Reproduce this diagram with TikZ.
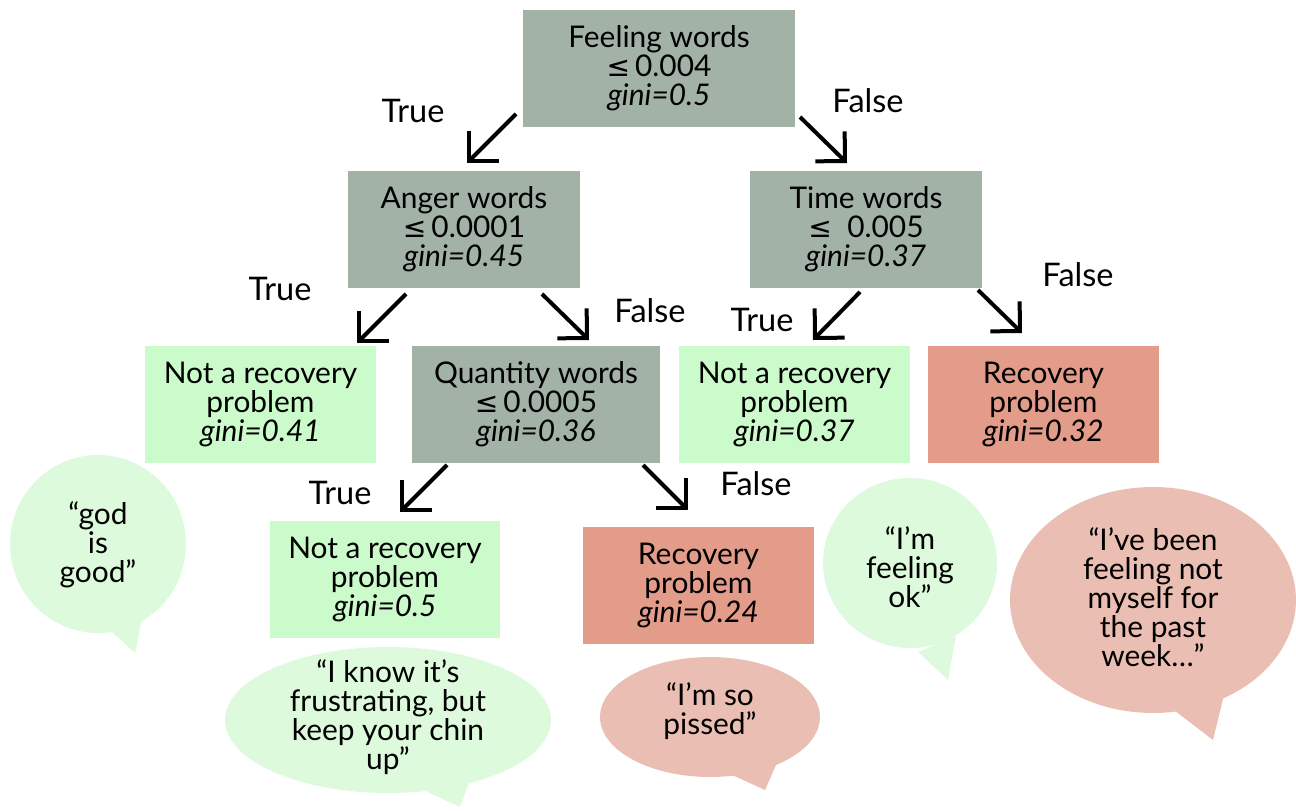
\documentclass[tikz,border=0pt]{standalone}
\usepackage{fontspec}
\setmainfont{Lato}
\newfontfamily\symf{DejaVu Sans}
\usetikzlibrary{arrows.meta}
\definecolor{boxgray}{HTML}{A3B2A6}
\definecolor{leafgreen}{HTML}{CBFBCB}
\definecolor{leafred}{HTML}{E39B8A}
\definecolor{bubgreen}{HTML}{DDFADD}
\definecolor{bubred}{HTML}{EBBEB3}
\newcommand{\lesym}{{\symf\fontsize{16}{16}\selectfont ≤}}
\tikzset{
  txt/.style={font=\fontsize{17}{16.5}\selectfont, align=center, text=black},
  splitbox/.style={txt, fill=boxgray, inner sep=0pt, minimum width=4.64cm, minimum height=2.34cm},
  leafno/.style={txt, fill=leafgreen, inner sep=0pt, minimum width=4.62cm, minimum height=2.34cm},
  leafyes/.style={txt, fill=leafred, inner sep=0pt, minimum width=4.62cm, minimum height=2.34cm},
  lbl/.style={font=\fontsize{18.5}{18.5}\selectfont, text=black, inner sep=0pt},
  arr/.style={line width=0.08cm, -{Straight Barb[length=0.42cm, width=0.84cm, line width=0.08cm]}},
  quote/.style={txt, inner sep=0pt},
}
\begin{document}
\begin{tikzpicture}[x=0.02cm, y=-0.02cm]
\useasboundingbox (0,0) rectangle (1296,811);

% speech bubbles (backgrounds)
\fill[bubgreen] (98,544) ellipse [x radius=1.76cm, y radius=1.78cm];
\fill[bubgreen] (110,630) -- (135,653) -- (142,618) -- cycle;
\fill[bubgreen] (388,720) ellipse [x radius=3.26cm, y radius=1.46cm];
\fill[bubgreen] (410,784) -- (460,807) -- (470,780) -- cycle;
\fill[bubred] (710,717) ellipse [x radius=2.2cm, y radius=1.2cm];
\fill[bubred] (730,774) -- (765,790) -- (776,765) -- cycle;
\fill[bubgreen] (910,563) ellipse [x radius=1.74cm, y radius=1.7cm];
\fill[bubgreen] (918,652) -- (948,680) -- (956,636) -- cycle;
\fill[bubred] (1153,600) ellipse [x radius=2.86cm, y radius=2.26cm];
\fill[bubred] (1170,707) -- (1213,740) -- (1224,695) -- cycle;

% tree nodes
\node[splitbox, minimum width=5.44cm] (root) at (659,68.5) {Feeling words\\\lesym\,0.004\\\textit{gini=0.5}};
\node[splitbox] (anger) at (464,229.5) {Anger words\\\lesym\,0.0001\\\textit{gini=0.45}};
\node[splitbox] (time) at (866,229.5) {Time words\\\lesym\ \ 0.005\\\textit{gini=0.37}};
\node[leafno] (l1) at (260.5,404.5) {Not a recovery\\problem\\\textit{gini=0.41}};
\node[splitbox, minimum width=4.96cm] (qty) at (536,404.5) {Quantity words\\\lesym\,0.0005\\\textit{gini=0.36}};
\node[leafno] (l2) at (794.5,404.5) {Not a recovery\\problem\\\textit{gini=0.37}};
\node[leafyes] (l3) at (1043.5,404.5) {Recovery\\problem\\\textit{gini=0.32}};
\node[leafno, minimum width=4.6cm] (l4) at (385,579.5) {Not a recovery\\problem\\\textit{gini=0.5}};
\node[leafyes] (l5) at (698.5,585.5) {Recovery\\problem\\\textit{gini=0.24}};

% quotes
\node[quote] (q1) at (98,545) {“god\\is\\good”};
\node[quote] (q2) at (388,717) {“I know it’s\\frustrating, but\\keep your chin\\up”};
\node[quote] (q3) at (710,711) {“I’m so\\pissed”};
\node[quote] (q4) at (910,567) {“I’m\\feeling\\ok”};
\node[quote] (q5) at (1153,597) {“I’ve been\\feeling not\\myself for\\the past\\week…”};

% arrow end points
\coordinate (a1s) at (516,114); \coordinate (a1e) at (467,163);
\coordinate (a2s) at (800,117); \coordinate (a2e) at (847,163);
\coordinate (a3s) at (406,294); \coordinate (a3e) at (357,343);
\coordinate (a4s) at (542,294); \coordinate (a4e) at (589,340);
\coordinate (a5s) at (860,292); \coordinate (a5e) at (813,340);
\coordinate (a6s) at (978,290); \coordinate (a6e) at (1022,333);
\coordinate (a7s) at (447,465); \coordinate (a7e) at (400,512);
\coordinate (a8s) at (643,465); \coordinate (a8e) at (688,510);

\draw[arr] (a1s) -- (a1e);
\draw[arr] (a2s) -- (a2e);
\draw[arr] (a3s) -- (a3e);
\draw[arr] (a4s) -- (a4e);
\draw[arr] (a5s) -- (a5e);
\draw[arr] (a6s) -- (a6e);
\draw[arr] (a7s) -- (a7e);
\draw[arr] (a8s) -- (a8e);

% branch labels
\node[lbl] (t1) at (413,111) {True};
\node[lbl] (f1) at (868,101) {False};
\node[lbl] (t2) at (280,289) {True};
\node[lbl] (f2) at (650,311) {False};
\node[lbl] (t3) at (762,320) {True};
\node[lbl] (f3) at (1078,275) {False};
\node[lbl] (t4) at (340,493) {True};
\node[lbl] (f4) at (756,484) {False};
\end{tikzpicture}
\end{document}
